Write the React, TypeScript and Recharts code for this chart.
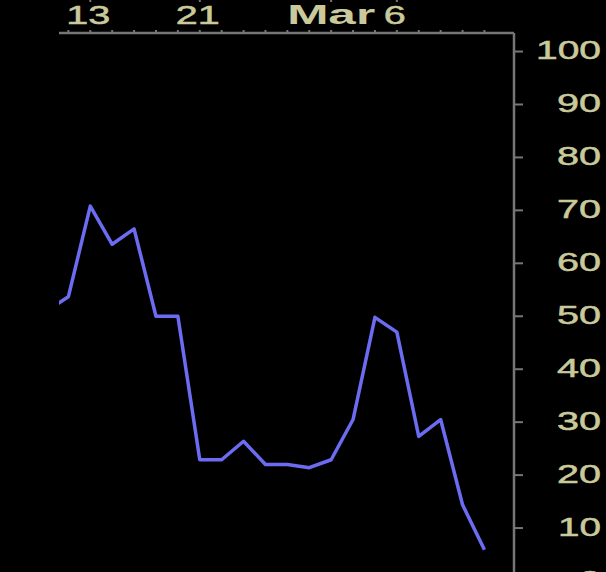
import React from "react";
import { LineChart, Line, XAxis, YAxis } from "recharts";

// trading days (Feb 11 .. Mar 12), index = position on the x axis
const dates = [
  "Feb 11", "Feb 12", "Feb 13", "Feb 14", "Feb 18", "Feb 19", "Feb 20", "Feb 21",
  "Feb 24", "Feb 25", "Feb 26", "Feb 27", "Feb 28", "Mar 3", "Mar 4", "Mar 5",
  "Mar 6", "Mar 7", "Mar 10", "Mar 11", "Mar 12",
];
const values = [
  51, 53.7, 70.8, 63.6, 66.5, 50.0, 50.0, 22.9, 22.9, 26.4, 22.0, 22.0, 21.4,
  22.9, 30.5, 49.8, 47.0, 27.3, 30.5, 14.4, 5.9,
];
const xTicks = [1, 2, 3, 4, 5, 6, 7, 8, 9, 10, 11, 12, 13, 14, 15, 16, 17, 18, 19, 20];
const labelIdx = [2, 7, 13, 16];
const labelText = ["13", "21", "Mar", "6"];
const yTicks = [0, 10, 20, 30, 40, 50, 60, 70, 80, 90, 100];

const data = dates.map((d, i) => ({ i, date: d, v: values[i] }));

const GRAY = "#767676";
const KHAKI = "#c9c99b";
const LINE = "#6c6cf2";
const DIGIT_W = 22;

const TopTick = (props: any) => {
  const { x, y, payload } = props;
  const k = labelIdx.indexOf(payload.value);
  if (k < 0) return null;
  const txt = labelText[k];
  const bold = txt === "Mar";
  const len = bold ? 88 : txt.length * DIGIT_W;
  return (
    <g>
      <line x1={x} x2={x} y1={0} y2={2} stroke={GRAY} strokeWidth={2} />
      <text
        x={x - len / 2 - (bold ? 0 : 2)}
        y={y - 4}
        fill={KHAKI}
        stroke={KHAKI}
        strokeWidth={bold ? 0 : 0.5}
        fontFamily="Liberation Sans, Arial, sans-serif"
        fontSize={bold ? 28 : 25}
        fontWeight={bold ? "bold" : "normal"}
        textLength={len}
        lengthAdjust="spacingAndGlyphs"
        textAnchor="start"
      >
        {txt}
      </text>
    </g>
  );
};

const RightTick = (props: any) => {
  const { x, y, payload } = props;
  const txt = String(payload.value);
  const len = txt.length * DIGIT_W - (txt.startsWith("1") ? 1 : 0);
  const right = x + 76;
  return (
    <text
      x={right - len}
      y={y + 7.5}
      fill={KHAKI}
      stroke={KHAKI}
      strokeWidth={0.5}
      fontFamily="Liberation Sans, Arial, sans-serif"
      fontSize={25}
      textLength={len}
      lengthAdjust="spacingAndGlyphs"
      textAnchor="start"
    >
      {txt}
    </text>
  );
};

export default function App() {
  return (
    <div
      style={{
        position: "fixed",
        top: 0,
        left: 0,
        width: 606,
        height: 572,
        overflow: "hidden",
        background: "#000",
      }}
    >
      <LineChart
        width={606}
        height={600}
        data={data}
        margin={{ top: 0, right: 0, left: 59, bottom: 19 }}
      >
        <XAxis
          dataKey="i"
          type="number"
          orientation="top"
          domain={[0.571, 21.35]}
          allowDataOverflow
          ticks={xTicks}
          interval={0}
          height={33}
          tickSize={3}
          tickMargin={2}
          tickLine={{ stroke: GRAY, strokeWidth: 2 }}
          axisLine={{ stroke: GRAY, strokeWidth: 2.5 }}
          tick={<TopTick />}
        />
        <YAxis
          yAxisId="l"
          orientation="left"
          width={0}
          domain={[0, 103.5]}
          tick={false}
          tickLine={false}
          axisLine={{ stroke: GRAY, strokeWidth: 2.5 }}
        />
        <YAxis
          yAxisId="r"
          orientation="right"
          width={92}
          domain={[0, 103.5]}
          ticks={yTicks}
          interval={0}
          tickSize={9}
          tickMargin={2}
          tickLine={{ stroke: GRAY, strokeWidth: 2 }}
          axisLine={{ stroke: GRAY, strokeWidth: 2.5 }}
          tick={<RightTick />}
        />
        <Line
          yAxisId="r"
          type="linear"
          dataKey="v"
          stroke={LINE}
          strokeWidth={3.5}
          strokeLinejoin="round"
          dot={false}
          isAnimationActive={false}
        />
      </LineChart>
    </div>
  );
}
